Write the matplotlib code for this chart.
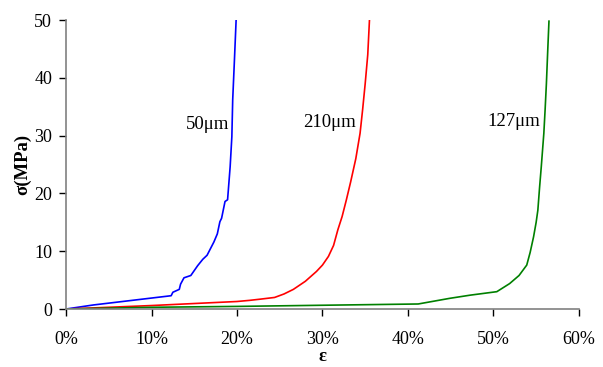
import matplotlib
matplotlib.use("Agg")
import matplotlib.pyplot as plt

plt.rcParams['font.family'] = ['Liberation Serif', 'DejaVu Serif']

# strain (%) and stress (MPa)
eps_50 = [0, 3.2, 12.3, 12.5, 13.25, 13.4, 13.8, 14.6, 15.4, 16.0, 16.5, 17.3, 17.7,
          18.0, 18.2, 18.6, 18.9, 19.2, 19.4, 19.5, 19.7, 19.9]
sig_50 = [0, 0.7, 2.3, 2.9, 3.4, 4.3, 5.4, 5.8, 7.5, 8.6, 9.3, 11.6, 13.0,
          15.1, 15.7, 18.6, 18.9, 24.6, 29.8, 36.2, 43.0, 50]

eps_210 = [0, 10, 15.7, 20, 21.5, 22.7, 24.4, 25.5, 26.6, 28.0, 29.3, 30.0, 30.7, 31.3,
           31.8, 32.3, 32.8, 33.3, 33.9, 34.4, 34.7, 35.0, 35.3, 35.5]
sig_210 = [0, 0.6, 1.0, 1.3, 1.5, 1.7, 2.0, 2.6, 3.4, 4.8, 6.5, 7.6, 9.1, 11.0,
           13.7, 16.0, 18.9, 22.0, 26.0, 30.4, 34.5, 39.0, 44.0, 50]

eps_127 = [0, 10, 20, 30, 41.2, 44.9, 47.3, 50.4, 51.9, 53.0, 53.9, 54.3, 54.7, 55.0,
           55.2, 55.4, 55.6, 55.75, 55.9, 56.05, 56.2, 56.35, 56.5]
sig_127 = [0, 0.3, 0.45, 0.65, 0.87, 1.85, 2.4, 3.0, 4.4, 5.8, 7.6, 9.8, 12.5, 15.0,
           17.1, 21.0, 24.6, 27.5, 30.4, 34.5, 39.0, 44.5, 49.8]

labels = ["50μm", "210μm", "127μm"]
x_ticks = [0, 10, 20, 30, 40, 50, 60]
x_tick_labels = ["0%", "10%", "20%", "30%", "40%", "50%", "60%"]
y_ticks = [0, 10, 20, 30, 40, 50]

fig = plt.figure(figsize=(6.03, 3.67), dpi=100)
ax = fig.add_axes([0.1095, 0.158, 0.8505, 0.7875])

ax.plot(eps_50, sig_50, color='#0000FF', lw=1.2)
ax.plot(eps_210, sig_210, color='#FF0000', lw=1.2)
ax.plot(eps_127, sig_127, color='#008000', lw=1.2)

ax.set_xlim(0, 60)
ax.set_ylim(0, 50)
ax.set_xticks(x_ticks)
ax.set_xticklabels(x_tick_labels)
ax.set_yticks(y_ticks)

for s in ['top', 'right']:
    ax.spines[s].set_visible(False)
for s in ['left', 'bottom']:
    ax.spines[s].set_color('#808080')
    ax.spines[s].set_linewidth(1.2)
ax.tick_params(direction='out', length=5, width=1, colors='black', labelsize=13)
ax.tick_params(axis='x', pad=11)
ax.tick_params(axis='y', pad=5)

ax.text(16.5, 32, labels[0], fontsize=13.5, ha='center', va='center')
ax.text(30.8, 32.2, labels[1], fontsize=13.5, ha='center', va='center')
ax.text(52.4, 32.4, labels[2], fontsize=13.5, ha='center', va='center')

ax.set_xlabel('ε', fontsize=13.5, fontweight='bold', labelpad=0)
ax.set_ylabel('σ(MPa)', fontsize=13.5, fontweight='bold', labelpad=2)

fig.savefig('out.png', dpi=100)
